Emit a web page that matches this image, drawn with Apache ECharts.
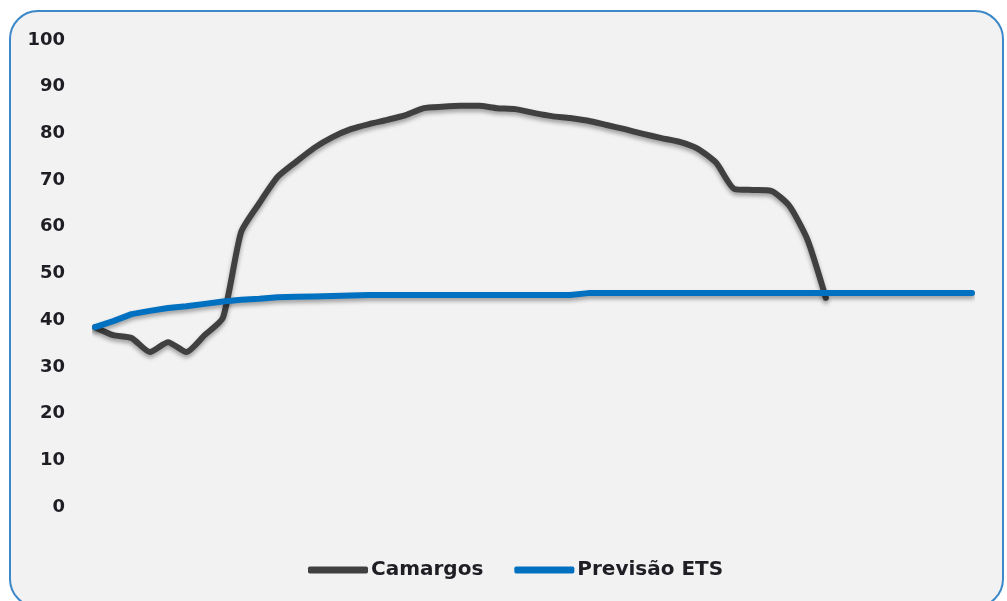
<!DOCTYPE html>
<html>
<head>
<meta charset="utf-8">
<script src="https://cdn.jsdelivr.net/npm/echarts@6/dist/echarts.min.js"></script>
<style>
  html, body { margin: 0; padding: 0; background: #ffffff; }
  #chart { width: 1007px; height: 601px; }
</style>
</head>
<body>
<div id="chart"></div>
<script>
// Periods along the horizontal axis (not labelled)
const periods = [
  "1","2","3","4","5","6","7","8","9","10",
  "11","12","13","14","15","16","17","18","19","20",
  "21","22","23","24","25","26","27","28","29","30",
  "31","32","33","34","35","36","37","38","39","40",
  "41","42","43","44","45","46","47","48","49"
];

// Observed level – Camargos
const camargos = [
  38.5, 36.8, 36.2, 33.2, 35.3, 33.2, 36.8, 40.5, 58.9, 65.1,
  70.7, 73.9, 76.9, 79.2, 80.9, 82.0, 82.9, 83.9, 85.4, 85.7,
  85.9, 85.9, 85.4, 85.2, 84.4, 83.7, 83.3, 82.7, 81.8, 80.9,
  79.9, 79.0, 78.2, 76.7, 73.7, 68.1, 67.9, 67.7, 64.5, 57.2,
  44.8
];

// ETS forecast
const previsaoETS = [
  38.5, 39.8, 41.3, 42.0, 42.6, 43.0, 43.5, 44.0, 44.4, 44.6,
  44.9, 45.0, 45.1, 45.2, 45.3, 45.4, 45.4, 45.4, 45.4, 45.4,
  45.4, 45.4, 45.4, 45.4, 45.4, 45.4, 45.4, 45.8, 45.8, 45.8,
  45.8, 45.8, 45.8, 45.8, 45.8, 45.8, 45.8, 45.8, 45.8, 45.8,
  45.8, 45.8, 45.8, 45.8, 45.8, 45.8, 45.8, 45.8, 45.8
];

const yMin = 0, yMax = 100, yStep = 10;

const chart = echarts.init(document.getElementById('chart'), null, { renderer: 'canvas' });

const lineShadow = {
  shadowColor: 'rgba(0,0,0,0.35)',
  shadowBlur: 4,
  shadowOffsetY: 3
};

chart.setOption({
  backgroundColor: '#ffffff',
  animation: false,
  graphic: [{
    type: 'rect',
    z: -10,
    silent: true,
    shape: { x: 10, y: 11, width: 993, height: 596, r: 28 },
    style: { fill: '#f2f2f2', stroke: '#3d88c9', lineWidth: 2 }
  }],
  grid: { left: 95, right: 35, top: 40, bottom: 94, containLabel: false },
  legend: {
    left: 303,
    top: 555,
    itemWidth: 60,
    itemHeight: 7,
    itemGap: 31,
    icon: 'roundRect',
    textStyle: {
      fontFamily: 'DejaVu Sans',
      fontWeight: 'bold',
      fontSize: 20,
      color: '#1e1e24',
      padding: [0, 0, 0, -2]
    },
    data: ['Camargos', 'Previsão ETS']
  },
  xAxis: {
    type: 'category',
    data: periods,
    boundaryGap: false,
    axisLine: { show: false },
    axisTick: { show: false },
    axisLabel: { show: false },
    splitLine: { show: false }
  },
  yAxis: {
    type: 'value',
    min: yMin,
    max: yMax,
    interval: yStep,
    axisLine: { show: false },
    axisTick: { show: false },
    splitLine: { show: false },
    axisLabel: {
      margin: 30,
      fontFamily: 'DejaVu Sans',
      fontWeight: 'bold',
      fontSize: 18,
      color: '#1e1e24'
    }
  },
  series: [
    {
      name: 'Camargos',
      type: 'line',
      data: camargos,
      symbol: 'none',
      smooth: 0.2,
      z: 2,
      itemStyle: { color: '#404040' },
      lineStyle: Object.assign({ color: '#404040', width: 6, cap: 'round', join: 'round' }, lineShadow)
    },
    {
      name: 'Previsão ETS',
      type: 'line',
      data: previsaoETS,
      symbol: 'none',
      smooth: false,
      z: 3,
      itemStyle: { color: '#0070c0' },
      lineStyle: Object.assign({ color: '#0070c0', width: 6, cap: 'round', join: 'round' }, lineShadow)
    }
  ]
});
</script>
</body>
</html>
